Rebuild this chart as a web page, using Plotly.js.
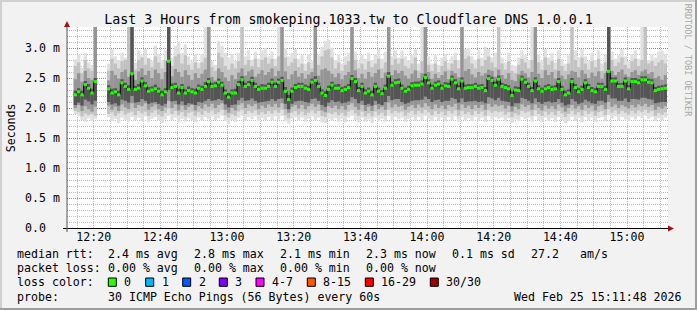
<!DOCTYPE html>
<html><head><meta charset="utf-8">
<script src="https://cdn.plot.ly/plotly-3.0.1.min.js"></script>
<style>html,body{margin:0;padding:0;background:#f2f2f2;}#g{width:697px;height:310px;}</style>
</head><body><div id="g"></div>
<script>
// ---- data (milliseconds, shown with the "m" suffix), one value per 60 s step from 12:12 ----
const median = [
null,null,2.22,2.27,2.22,2.39,2.33,2.25,2.44,null,
null,null,2.32,2.25,2.27,2.22,2.42,2.36,2.31,2.57,
2.31,2.33,2.45,2.37,2.28,2.30,2.32,2.28,2.22,2.27,
2.78,2.34,2.36,2.25,2.34,2.25,2.29,2.27,2.25,2.33,
2.31,2.36,2.44,2.36,2.37,2.43,2.38,2.25,2.18,2.25,
2.25,2.39,2.47,2.36,2.39,2.46,2.36,2.31,2.33,2.33,
2.36,2.43,2.36,2.43,2.46,2.28,2.14,2.28,2.34,2.36,
2.36,2.33,2.31,2.43,2.46,2.36,2.25,2.21,2.31,2.38,
2.33,2.33,2.29,2.31,2.34,2.49,2.44,2.29,2.36,2.25,
2.28,2.22,2.36,2.28,2.24,2.33,2.53,2.38,2.42,2.43,
2.33,2.28,2.31,2.37,2.38,2.38,2.40,2.51,2.42,2.33,
2.38,2.40,2.33,2.37,2.36,2.48,2.42,2.32,2.45,2.33,
2.34,2.34,2.36,2.33,2.34,2.29,2.49,2.46,2.38,2.48,
2.36,2.34,2.32,2.21,2.30,2.29,2.48,2.43,2.36,2.29,
2.45,2.32,2.28,2.32,2.34,2.31,2.32,2.44,2.31,2.22,
2.25,2.44,2.34,2.27,2.31,2.42,2.34,2.29,2.27,2.36,
2.36,2.31,2.61,2.45,2.45,2.36,2.36,2.45,2.32,2.44,
2.44,2.42,2.47,2.47,2.43,2.42,2.29,2.31,2.32,2.33];

const hi4 = [
null,null,2.29,2.33,2.29,2.45,2.40,2.32,2.50,null,
null,null,2.38,2.32,2.33,2.29,2.48,2.42,2.38,3.50,
2.37,2.40,2.51,2.43,2.35,2.36,2.39,2.34,2.29,2.33,
3.50,2.41,2.42,2.32,2.40,2.31,2.36,2.33,2.32,2.39,
2.37,2.43,2.50,2.42,2.43,2.49,2.44,2.31,2.25,2.31,
2.32,2.45,2.53,2.42,2.45,2.52,2.42,2.37,2.40,2.39,
2.42,2.49,2.42,2.49,2.52,2.35,2.22,2.34,2.40,2.42,
2.42,2.39,2.37,2.49,2.53,2.42,2.31,2.28,2.37,2.44,
2.39,2.40,2.35,2.37,2.40,2.55,2.50,2.35,2.42,2.31,
2.34,2.29,2.42,2.34,2.30,2.39,2.60,2.44,2.48,2.49,
2.39,2.34,2.37,2.43,2.44,2.44,2.46,2.57,2.48,2.39,
2.44,2.46,2.39,2.43,2.42,2.54,2.48,2.38,2.51,2.39,
2.40,2.40,2.42,2.39,2.40,2.35,2.55,2.52,2.44,2.54,
2.42,2.40,2.38,2.28,2.36,2.35,2.54,2.49,2.42,2.35,
2.51,2.38,2.34,2.38,2.40,2.37,2.38,2.50,2.37,2.29,
2.31,2.50,2.40,2.33,2.37,2.48,2.40,2.35,2.33,2.42,
2.42,2.37,3.50,2.51,2.51,2.42,2.42,2.51,2.38,2.50,
2.50,2.48,2.53,2.53,2.49,2.48,2.35,2.37,2.38,2.39];

const lo4 = [
null,null,2.05,2.09,2.04,2.14,2.11,2.06,2.12,null,
null,null,2.10,2.06,2.08,2.04,2.14,2.12,2.09,2.20,
2.09,2.10,2.15,2.12,2.07,2.09,2.10,2.07,2.04,2.07,
2.30,2.11,2.12,2.06,2.11,2.05,2.08,2.07,2.05,2.10,
2.09,2.12,2.15,2.12,2.13,2.15,2.13,2.06,2.01,2.05,
2.06,2.13,2.17,2.12,2.13,2.16,2.12,2.09,2.10,2.11,
2.12,2.15,2.12,2.15,2.16,2.07,1.98,2.07,2.11,2.12,
2.12,2.10,2.09,2.15,2.16,2.12,2.05,2.02,2.09,2.13,
2.10,2.11,2.08,2.09,2.11,2.18,2.15,2.08,2.12,2.05,
2.07,2.04,2.12,2.07,2.05,2.10,2.20,2.13,2.15,2.15,
2.10,2.07,2.09,2.12,2.13,2.13,2.14,2.19,2.15,2.10,
2.13,2.14,2.10,2.12,2.12,2.17,2.15,2.09,2.16,2.10,
2.11,2.11,2.12,2.10,2.11,2.08,2.18,2.16,2.13,2.17,
2.12,2.11,2.10,2.03,2.08,2.08,2.17,2.15,2.12,2.08,
2.16,2.10,2.07,2.10,2.11,2.09,2.10,2.15,2.09,2.04,
2.06,2.15,2.11,2.07,2.09,2.14,2.11,2.08,2.07,2.12,
2.12,2.09,2.22,2.16,2.16,2.12,2.12,2.16,2.10,2.15,
2.15,2.14,2.17,2.17,2.15,2.14,2.08,2.09,2.10,2.10];

const hi3 = [
null,null,2.48,2.58,2.44,2.62,2.50,2.47,3.50,null,
null,null,2.46,2.62,2.55,2.49,2.60,2.64,2.52,3.50,
2.47,2.61,2.66,2.55,2.62,2.50,2.64,2.58,2.48,2.60,
3.50,2.53,2.65,2.60,2.52,2.63,2.55,2.47,2.58,2.50,
2.57,2.64,3.50,2.52,2.46,2.66,2.60,2.51,2.45,2.55,
2.48,2.59,2.66,2.54,2.61,2.64,2.52,2.57,2.63,2.55,
2.60,2.66,2.53,2.62,3.50,2.61,2.48,2.56,2.62,2.52,
2.58,2.49,2.56,2.60,3.50,2.54,2.64,2.66,2.62,2.57,
2.51,2.58,2.48,2.55,2.60,3.50,2.63,2.50,2.57,2.49,
2.60,2.52,2.58,2.64,2.50,2.59,3.50,2.55,2.63,2.58,
2.62,2.54,2.49,2.57,2.63,2.50,2.58,3.50,2.60,2.49,
2.57,2.50,2.55,2.61,2.48,2.62,2.58,2.51,3.50,2.62,
2.65,2.56,2.51,2.60,2.54,2.58,2.64,2.62,2.52,2.64,
2.55,2.49,2.58,2.47,2.45,2.56,2.62,2.58,2.51,2.60,
3.50,2.57,2.50,2.63,2.55,2.60,2.49,2.62,2.54,2.48,
2.56,2.62,2.60,2.51,2.63,2.57,2.50,2.59,2.53,2.61,
2.49,2.58,3.50,2.62,2.55,2.60,2.64,2.56,2.52,2.60,
2.63,2.55,2.61,2.64,2.57,2.60,2.50,2.53,2.47,2.55];

const lo3 = [
null,null,2.00,2.05,1.95,2.03,1.98,1.94,2.02,null,
null,null,2.04,1.97,2.02,1.95,2.06,2.01,1.98,2.08,
2.00,2.05,2.03,2.08,1.97,2.02,2.06,1.98,1.95,2.01,
2.12,2.00,2.06,1.96,2.04,1.97,2.02,2.05,1.96,2.03,
1.99,2.06,2.02,2.07,2.00,2.05,2.08,1.97,1.92,2.00,
1.96,2.05,2.08,2.00,2.06,2.03,2.07,1.98,2.04,2.00,
2.06,2.02,2.07,2.01,2.08,1.98,1.92,2.02,2.05,1.99,
2.05,1.98,2.03,2.07,2.02,2.06,1.96,1.93,2.03,2.00,
2.04,1.98,2.03,1.97,2.05,2.08,2.02,1.97,2.05,1.95,
2.02,1.95,2.05,1.98,2.02,1.97,2.09,2.01,2.06,2.02,
2.04,1.97,2.02,2.05,2.00,2.06,2.01,2.08,2.03,1.98,
2.06,2.00,2.04,1.98,2.05,2.02,2.07,1.97,2.06,2.00,
2.04,1.98,2.05,2.00,2.05,1.97,2.07,2.02,2.06,2.03,
2.05,1.99,2.04,1.94,2.02,1.98,2.06,2.02,2.05,1.97,
2.06,2.00,1.96,2.04,1.99,2.03,1.98,2.06,2.01,1.94,
2.00,2.05,1.99,2.03,1.97,2.05,2.00,2.04,1.96,2.03,
2.05,1.98,2.10,2.02,2.06,2.00,2.05,2.02,1.99,2.05,
2.01,2.06,2.03,2.07,2.02,2.05,1.97,2.02,1.99,2.03];

const hi2 = [
null,null,2.70,2.76,2.58,2.80,2.66,2.62,3.50,null,
null,null,2.62,2.82,2.74,2.66,2.78,2.80,3.50,3.50,
2.64,2.80,2.84,2.72,2.82,2.68,2.86,2.76,2.66,2.80,
3.50,2.70,2.86,2.90,2.74,2.88,2.72,2.64,2.76,2.66,
2.76,2.84,3.50,2.68,2.62,2.92,2.84,2.70,2.64,2.74,
2.66,2.78,3.50,2.72,2.80,2.70,2.82,2.68,2.80,2.84,
2.74,2.82,2.70,2.86,3.50,2.84,2.70,2.76,2.82,2.68,
2.74,2.62,2.76,2.66,3.50,2.72,2.86,2.96,2.98,2.84,
2.66,2.76,2.62,2.72,2.78,3.50,2.80,2.66,2.74,2.64,
2.78,2.68,2.74,2.82,2.66,2.76,3.50,2.72,2.82,2.74,
2.82,2.70,2.66,2.74,2.84,2.62,2.78,3.50,2.72,2.62,
2.74,2.60,2.70,2.78,2.64,2.74,2.80,2.66,3.50,2.82,
2.86,2.74,2.66,2.82,2.70,2.80,2.86,2.76,2.68,3.50,
2.74,2.64,2.78,2.62,2.58,2.72,2.82,2.76,2.66,2.80,
3.50,2.76,2.64,2.84,2.72,2.78,2.64,2.82,2.70,2.62,
2.74,3.50,2.80,2.68,2.84,2.74,2.64,2.78,2.68,2.82,
2.62,2.76,3.50,2.80,2.70,2.76,2.84,2.72,2.66,2.78,
2.82,2.70,2.80,3.50,2.74,2.78,2.70,2.76,2.80,2.74];

const lo2 = [
null,null,1.95,1.93,1.86,1.91,1.88,1.90,1.87,null,
null,null,1.90,1.93,1.87,1.91,1.95,1.89,1.92,1.94,
1.88,1.95,1.91,1.94,1.87,1.92,1.96,1.89,1.86,1.92,
1.99,1.90,1.95,1.88,1.93,1.86,1.92,1.94,1.87,1.93,
1.89,1.95,1.92,1.96,1.90,1.93,1.97,1.88,1.84,1.90,
1.87,1.94,1.97,1.90,1.95,1.92,1.96,1.89,1.93,1.90,
1.95,1.91,1.96,1.92,1.97,1.88,1.83,1.92,1.95,1.89,
1.94,1.88,1.92,1.96,1.91,1.95,1.87,1.85,1.92,1.90,
1.93,1.88,1.92,1.87,1.94,1.97,1.91,1.87,1.94,1.86,
1.91,1.86,1.94,1.88,1.92,1.87,1.97,1.91,1.95,1.92,
1.94,1.87,1.92,1.95,1.89,1.95,1.91,1.97,1.93,1.88,
1.95,1.90,1.94,1.88,1.95,1.91,1.96,1.87,1.95,1.90,
1.93,1.88,1.95,1.90,1.94,1.87,1.96,1.92,1.95,1.93,
1.94,1.89,1.93,1.85,1.91,1.88,1.95,1.92,1.94,1.87,
1.96,1.90,1.87,1.94,1.89,1.93,1.88,1.95,1.91,1.85,
1.90,1.95,1.89,1.93,1.87,1.95,1.90,1.94,1.87,1.93,
1.95,1.88,1.98,1.92,1.96,1.90,1.95,1.92,1.89,1.95,
1.91,1.96,1.93,1.97,1.92,1.95,1.87,1.92,1.89,1.93];

const hi1 = [
null,null,2.81,2.88,2.67,2.92,2.76,2.72,3.50,null,
null,null,2.74,2.98,2.86,2.80,2.92,2.84,3.50,3.50,
2.76,2.96,2.88,2.98,2.84,2.78,3.04,2.90,2.80,2.96,
3.50,2.84,3.04,3.10,2.92,3.06,2.86,2.78,2.90,2.76,
2.90,3.50,3.50,2.78,2.72,3.12,3.04,2.92,2.84,2.90,
2.78,2.92,3.50,2.86,2.96,2.80,2.94,2.82,2.96,3.00,
2.86,2.94,2.82,3.50,3.50,3.00,2.86,2.92,2.98,2.82,
2.88,2.74,2.90,2.78,3.50,2.88,3.02,3.12,3.14,3.00,
2.80,2.90,2.74,2.86,2.92,3.50,2.94,2.78,2.88,2.82,
2.92,2.80,2.90,2.98,2.82,2.94,3.50,2.86,2.96,2.84,
2.96,2.86,2.80,2.88,2.98,2.74,3.50,3.50,2.86,2.74,
2.88,2.72,2.84,2.90,2.76,2.86,2.92,2.80,3.50,2.98,
3.00,2.86,2.80,2.96,2.84,3.02,2.98,2.84,2.92,3.50,
2.84,2.76,2.92,2.72,2.70,2.84,2.96,2.88,2.80,3.50,
3.50,2.90,2.78,2.98,2.84,2.92,2.76,2.96,2.82,2.74,
2.88,3.50,2.96,2.84,2.98,2.86,2.78,2.92,2.80,2.96,
2.74,2.90,3.50,2.94,2.82,2.88,2.98,2.86,2.78,2.90,
2.96,2.82,3.50,3.50,2.80,2.90,2.84,2.94,2.96,2.90];

const lo1 = [
null,null,1.90,1.86,1.80,1.77,1.83,1.79,1.82,null,
null,null,1.85,1.78,1.82,1.75,1.84,1.80,1.77,1.85,
1.80,1.84,1.78,1.86,1.77,1.82,1.85,1.79,1.75,1.81,
1.87,1.80,1.84,1.76,1.82,1.77,1.83,1.80,1.76,1.84,
1.79,1.85,1.81,1.86,1.80,1.83,1.87,1.78,1.74,1.80,
1.77,1.84,1.87,1.79,1.85,1.81,1.86,1.78,1.83,1.80,
1.85,1.80,1.86,1.81,1.87,1.78,1.74,1.82,1.85,1.79,
1.84,1.77,1.82,1.86,1.80,1.84,1.76,1.75,1.82,1.79,
1.83,1.77,1.82,1.76,1.84,1.87,1.80,1.76,1.84,1.77,
1.81,1.75,1.84,1.78,1.82,1.77,1.87,1.80,1.85,1.81,
1.84,1.77,1.82,1.85,1.79,1.85,1.80,1.87,1.82,1.78,
1.85,1.79,1.84,1.78,1.85,1.80,1.86,1.77,1.85,1.80,
1.83,1.78,1.85,1.79,1.84,1.77,1.86,1.81,1.85,1.82,
1.84,1.78,1.83,1.75,1.81,1.78,1.85,1.81,1.84,1.77,
1.86,1.80,1.76,1.84,1.78,1.83,1.77,1.85,1.80,1.75,
1.79,1.85,1.78,1.83,1.76,1.85,1.80,1.84,1.77,1.83,
1.85,1.78,1.88,1.82,1.86,1.80,1.85,1.81,1.78,1.85,
1.81,1.86,1.83,1.87,1.82,1.85,1.78,1.83,1.80,1.84];

const yTickVals = [0, 0.5, 1.0, 1.5, 2.0, 2.5, 3.0];
const yTickText = ['0.0\u00a0\u00a0', '0.5 m', '1.0 m', '1.5 m', '2.0 m', '2.5 m', '3.0 m'];
const titleText = 'Last 3 Hours from smokeping.1033.tw to Cloudflare DNS 1.0.0.1';
const rowHeads = ['median rtt:', 'packet loss:', 'loss color:', 'probe:'];
const rttStats = ['2.4 ms avg', '2.8 ms max', '2.1 ms min', '2.3 ms now', '0.1 ms sd', '27.2', 'am/s'];
const lossStats = ['0.00 % avg', '0.00 % max', '0.00 % min', '0.00 % now'];
const lossLabels = ['0', '1', '2', '3', '4-7', '8-15', '16-29', '30/30'];
const lossColors = ['#26ff00', '#00b8ff', '#0059ff', '#7e00ff', '#ff00ff', '#ff5500', '#ff0000', '#a10000'];
const probeText = '30 ICMP Echo Pings (56 Bytes) every 60s';
const dateText = 'Wed Feb 25 15:11:48 2026';
const watermark = 'RRDTOOL / TOBI OETIKER';

// ---- layout geometry ----
const MONO = 'DejaVu Sans Mono';
const L = 67, T = 27, W = 601, H = 201, FW = 697, FH = 310;
const STEP = 60000;
const t0 = Date.UTC(2026, 1, 25, 12, 12, 0);
const tEnd = t0 + W * 18000;
const px = x => (x - L) / W, py = y => (T + H - y) / H;

const n = median.length;
const starts = [], centers = [];
for (let k = 0; k < n; k++) { starts.push(t0 + k * STEP); centers.push(t0 + k * STEP + STEP / 2); }

function band(lo, hi, color) {
  return {
    type: 'bar', x: centers, base: lo,
    y: hi.map((h, i) => (h == null || lo[i] == null) ? null : h - lo[i]),
    width: STEP, marker: {color: color, line: {width: 0}},
    hoverinfo: 'skip', showlegend: false
  };
}

const traces = [
  band(lo1, hi1, '#e0e0e0'),
  band(lo2, hi2, '#c2c2c2'),
  band(lo3, hi3, '#959595'),
  band(lo4, hi4, '#555555'),
  {type: 'scatter', mode: 'lines', x: starts, y: median, line: {shape: 'hv', color: '#000', width: 1},
   connectgaps: false, hoverinfo: 'skip', showlegend: false},
  {type: 'scatter', mode: 'markers', x: centers, y: median,
   marker: {symbol: 'line-ew', size: 2.4, line: {color: '#20ff00', width: 3}},
   hoverinfo: 'skip', showlegend: false}
];

const font = {family: MONO, size: 11.6, color: '#000'};
const anns = [];
function txt(s, x, y, extra) {
  anns.push(Object.assign({text: s, x: px(x), y: py(y), xref: 'paper', yref: 'paper',
    xanchor: 'left', yanchor: 'middle', showarrow: false, borderpad: 0, font: font}, extra || {}));
}
const rowY = [254, 268.3, 282.3, 296.7];
rowHeads.forEach((h, i) => txt(h, 16, rowY[i]));
const rttX = [107.3, 193.3, 279.3, 365.3, 451.3, 530.3, 579.3];
rttStats.forEach((s, i) => txt(s, rttX[i], rowY[0]));
lossStats.forEach((s, i) => txt(s, rttX[i], rowY[1]));
const boxX = [108.3, 145.7, 182.7, 219.3, 256, 307.3, 365.3, 430.3];
const shapes = [];
lossLabels.forEach((s, i) => {
  txt(s, boxX[i] + 15, rowY[2]);
  shapes.push({type: 'rect', xref: 'paper', yref: 'paper', x0: px(boxX[i]), x1: px(boxX[i] + 8),
    y0: py(278), y1: py(286.3), fillcolor: lossColors[i], line: {color: '#000', width: 1}});
});
txt(probeText, 107.3, rowY[3]);
txt(dateText, 512.7, rowY[3]);
txt('Seconds', 10.8, 127.5, {textangle: -90, xanchor: 'center', yanchor: 'middle'});
txt(watermark, 688.3, 60, {textangle: 90, xanchor: 'center', yanchor: 'middle',
  font: {family: MONO, size: 8.5, color: '#a8a8a8'}});

// frame
shapes.push({type: 'rect', xref: 'paper', yref: 'paper', x0: px(0), x1: px(2), y0: py(FH), y1: py(0), fillcolor: '#d0d0d0', line: {width: 0}, layer: 'below'});
shapes.push({type: 'rect', xref: 'paper', yref: 'paper', x0: px(0), x1: px(FW), y0: py(2), y1: py(0), fillcolor: '#d0d0d0', line: {width: 0}, layer: 'below'});
shapes.push({type: 'rect', xref: 'paper', yref: 'paper', x0: px(FW - 2), x1: px(FW), y0: py(FH), y1: py(0), fillcolor: '#9e9e9e', line: {width: 0}});
shapes.push({type: 'rect', xref: 'paper', yref: 'paper', x0: px(0), x1: px(FW), y0: py(FH), y1: py(FH - 2), fillcolor: '#9e9e9e', line: {width: 0}});
// axes with arrows
shapes.push({type: 'line', xref: 'paper', yref: 'paper', x0: px(63), x1: px(669), y0: py(228.5), y1: py(228.5), line: {color: '#000', width: 1}});
shapes.push({type: 'line', xref: 'paper', yref: 'paper', x0: px(67), x1: px(67), y0: py(232), y1: py(25), line: {color: '#555', width: 1}});
shapes.push({type: 'path', xref: 'paper', yref: 'paper',
  path: `M${px(668)},${py(225.5)} L${px(674)},${py(228.5)} L${px(668)},${py(231.5)} Z`, fillcolor: '#a01010', line: {width: 0}});
shapes.push({type: 'path', xref: 'paper', yref: 'paper',
  path: `M${px(64)},${py(27)} L${px(67)},${py(21)} L${px(70)},${py(27)} Z`, fillcolor: '#a01010', line: {width: 0}});

const layout = {
  width: FW, height: FH,
  margin: {l: L, r: FW - L - W, t: T, b: FH - T - H, pad: 0},
  paper_bgcolor: '#f2f2f2', plot_bgcolor: '#ffffff',
  barmode: 'overlay', showlegend: false, hovermode: false,
  font: font,
  title: {text: titleText, x: 0.5, xref: 'container', xanchor: 'center', y: 1 - 19 / FH, yref: 'container', yanchor: 'middle',
    font: {family: MONO, size: 13.3, color: '#000'}},
  xaxis: {
    type: 'date', range: [t0, tEnd], tickmode: 'linear', tick0: Date.UTC(2026, 1, 25, 12, 20, 0), dtick: 1200000,
    tickformat: '%H:%M', showgrid: true, gridcolor: 'rgba(255,0,0,0.4)', griddash: '1px,1px', gridwidth: 1,
    minor: {tickmode: 'linear', tick0: Date.UTC(2026, 1, 25, 12, 20, 0), dtick: 300000, showgrid: true,
      gridcolor: 'rgba(110,110,110,0.45)', griddash: '1px,1px', gridwidth: 1},
    zeroline: false, showline: false, ticks: '', tickfont: font, fixedrange: true
  },
  yaxis: {
    range: [0, H / 60], tickmode: 'array', tickvals: yTickVals, ticktext: yTickText,
    showgrid: true, gridcolor: 'rgba(255,0,0,0.4)', griddash: '1px,1px', gridwidth: 1,
    minor: {tickmode: 'linear', tick0: 0, dtick: 0.1, showgrid: true,
      gridcolor: 'rgba(110,110,110,0.45)', griddash: '1px,1px', gridwidth: 1},
    zeroline: false, showline: false, ticks: '', tickfont: font, fixedrange: true, ticklabelstandoff: 6
  },
  annotations: anns, shapes: shapes
};

Plotly.newPlot('g', traces, layout, {staticPlot: true, displayModeBar: false});
</script></body></html>
